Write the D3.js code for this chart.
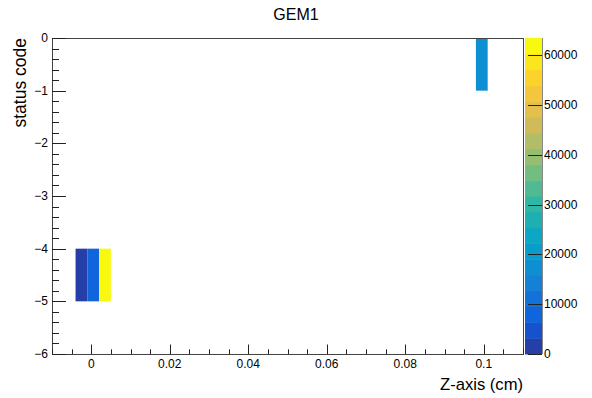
<!DOCTYPE html>
<html>
<head>
<meta charset="utf-8">
<script src="https://cdn.jsdelivr.net/npm/d3@7"></script>
<style>
  html, body { margin: 0; padding: 0; background: #fff; }
  svg { display: block; }
  text { font-family: "Liberation Sans", Arial, Helvetica, sans-serif; fill: #000; }
</style>
</head>
<body>
<svg id="chart" width="592" height="398"></svg>
<script>
// Histogram content: lower edge of each filled Z bin, status code bin, entries
const zBinLow  = [-0.004, -0.001, 0.002, 0.098];
const statusCode = [-5, -5, -5, -1];
const counts   = [1600, 7300, 63450, 17200];

const zBinWidth = 0.003;
const xDomain = [-0.01, 0.11];
const yDomain = [-6, 0];
const countMax = 63450;
const nLevels = 20;

const xTickValues = [0, 0.02, 0.04, 0.06, 0.08, 0.1];
const xTickLabels = ["0", "0.02", "0.04", "0.06", "0.08", "0.1"];
const yTickValues = [0, -1, -2, -3, -4, -5, -6];
const yTickLabels = ["0", "\u22121", "\u22122", "\u22123", "\u22124", "\u22125", "\u22126"];
const cTickValues = [0, 10000, 20000, 30000, 40000, 50000, 60000];

// Bird palette (255 colours built from gradient stops)
const stops = [0.0, 0.125, 0.25, 0.375, 0.5, 0.625, 0.75, 0.875, 1.0];
const red   = [0.2082, 0.0592, 0.0780, 0.0232, 0.1802, 0.5301, 0.8186, 0.9956, 0.9764];
const green = [0.1664, 0.3599, 0.5041, 0.6419, 0.7178, 0.7492, 0.7328, 0.7862, 0.9832];
const blue  = [0.5293, 0.8684, 0.8385, 0.7914, 0.6425, 0.4662, 0.3499, 0.1968, 0.0539];

function buildPalette(n) {
  const out = [];
  for (let g = 1; g < stops.length; g++) {
    const nc = Math.floor(n * stops[g]) - Math.floor(n * stops[g - 1]);
    for (let c = 0; c < nc; c++) {
      const r = red[g - 1] + c * (red[g] - red[g - 1]) / nc;
      const gg = green[g - 1] + c * (green[g] - green[g - 1]) / nc;
      const b = blue[g - 1] + c * (blue[g] - blue[g - 1]) / nc;
      out.push(d3.rgb(r * 255, gg * 255, b * 255).formatHex());
    }
  }
  return out;
}
const palette = buildPalette(255);

function levelColor(v) {
  const lvl = Math.floor(0.01 + v * nLevels / countMax);
  let idx = Math.floor((lvl + 0.99) * palette.length / nLevels);
  idx = Math.max(0, Math.min(palette.length - 1, idx));
  return palette[idx];
}

const frame = { left: 52, right: 523, top: 38, bottom: 354 };
const bar = { left: 525, right: 542 };

const svg = d3.select("#chart");
const x = d3.scaleLinear().domain(xDomain).range([frame.left, frame.right]);
const y = d3.scaleLinear().domain(yDomain).range([frame.bottom, frame.top]);
const c = d3.scaleLinear().domain([0, countMax]).range([frame.bottom, frame.top]);

// cells
const cells = zBinLow.map((z, i) => ({ z, s: statusCode[i], n: counts[i] }));
svg.append("g").selectAll("rect").data(cells).join("rect")
  .attr("x", d => x(d.z))
  .attr("width", d => x(d.z + zBinWidth) - x(d.z))
  .attr("y", d => y(d.s + 1))
  .attr("height", d => y(d.s) - y(d.s + 1))
  .attr("fill", d => levelColor(d.n));

// frame
svg.append("rect")
  .attr("x", frame.left + 0.5).attr("y", frame.top + 0.5)
  .attr("width", frame.right - frame.left).attr("height", frame.bottom - frame.top)
  .attr("fill", "none").attr("stroke", "#444").attr("stroke-width", 1);

// x axis ticks
const xMinor = d3.range(-0.01, 0.1101, 0.005).map(v => +v.toFixed(4));
const gx = svg.append("g");
gx.selectAll("line.minor").data(xMinor).join("line")
  .attr("x1", d => Math.round(x(d)) + 0.5).attr("x2", d => Math.round(x(d)) + 0.5)
  .attr("y1", frame.bottom).attr("y2", frame.bottom - 4.7)
  .attr("stroke", "#222");
gx.selectAll("line.major").data(xTickValues).join("line")
  .attr("x1", d => Math.round(x(d)) + 0.5).attr("x2", d => Math.round(x(d)) + 0.5)
  .attr("y1", frame.bottom).attr("y2", frame.bottom - 9.5)
  .attr("stroke", "#222");
gx.selectAll("text").data(xTickValues).join("text")
  .attr("x", d => x(d)).attr("y", 368)
  .attr("text-anchor", "middle").attr("font-size", 12)
  .text((d, i) => xTickLabels[i]);

// y axis ticks
const yMinor = d3.range(-6, 0.001, 0.2).map(v => +v.toFixed(2));
const gy = svg.append("g");
gy.selectAll("line.minor").data(yMinor).join("line")
  .attr("y1", d => Math.round(y(d)) + 0.5).attr("y2", d => Math.round(y(d)) + 0.5)
  .attr("x1", frame.left).attr("x2", frame.left + 7)
  .attr("stroke", "#222");
gy.selectAll("line.major").data(yTickValues).join("line")
  .attr("y1", d => Math.round(y(d)) + 0.5).attr("y2", d => Math.round(y(d)) + 0.5)
  .attr("x1", frame.left).attr("x2", frame.left + 14)
  .attr("stroke", "#222");
gy.selectAll("text").data(yTickValues).join("text")
  .attr("x", 48).attr("y", d => y(d) + 4)
  .attr("text-anchor", "end").attr("font-size", 12)
  .text((d, i) => yTickLabels[i]);

// colour bar
const bands = d3.range(nLevels);
svg.append("g").selectAll("rect").data(bands).join("rect")
  .attr("x", bar.left).attr("width", bar.right - bar.left)
  .attr("y", k => c((k + 1) * countMax / nLevels))
  .attr("height", k => c(k * countMax / nLevels) - c((k + 1) * countMax / nLevels) + 0.5)
  .attr("fill", k => levelColor((k + 0.5) * countMax / nLevels));
svg.append("line")
  .attr("x1", bar.right + 0.5).attr("x2", bar.right + 0.5)
  .attr("y1", frame.top).attr("y2", frame.bottom)
  .attr("stroke", "#888");
const gc = svg.append("g");
gc.selectAll("line").data(cTickValues).join("line")
  .attr("y1", d => Math.round(c(d)) + 0.5).attr("y2", d => Math.round(c(d)) + 0.5)
  .attr("x1", bar.right - 14).attr("x2", bar.right)
  .attr("stroke", "#222");
gc.selectAll("text").data(cTickValues).join("text")
  .attr("x", bar.right + 2).attr("y", d => c(d) + 4)
  .attr("text-anchor", "start").attr("font-size", 12)
  .text(d => d3.format("d")(d));

// titles
svg.append("text").attr("x", 296).attr("y", 20)
  .attr("text-anchor", "middle").attr("font-size", 16).text("GEM1");
svg.append("text").attr("x", frame.right).attr("y", 390)
  .attr("text-anchor", "end").attr("font-size", 16.6).text("Z-axis (cm)");
svg.append("text")
  .attr("transform", `translate(26,${frame.top}) rotate(-90)`)
  .attr("text-anchor", "end").attr("font-size", 17.5).text("status code");
</script>
</body>
</html>
